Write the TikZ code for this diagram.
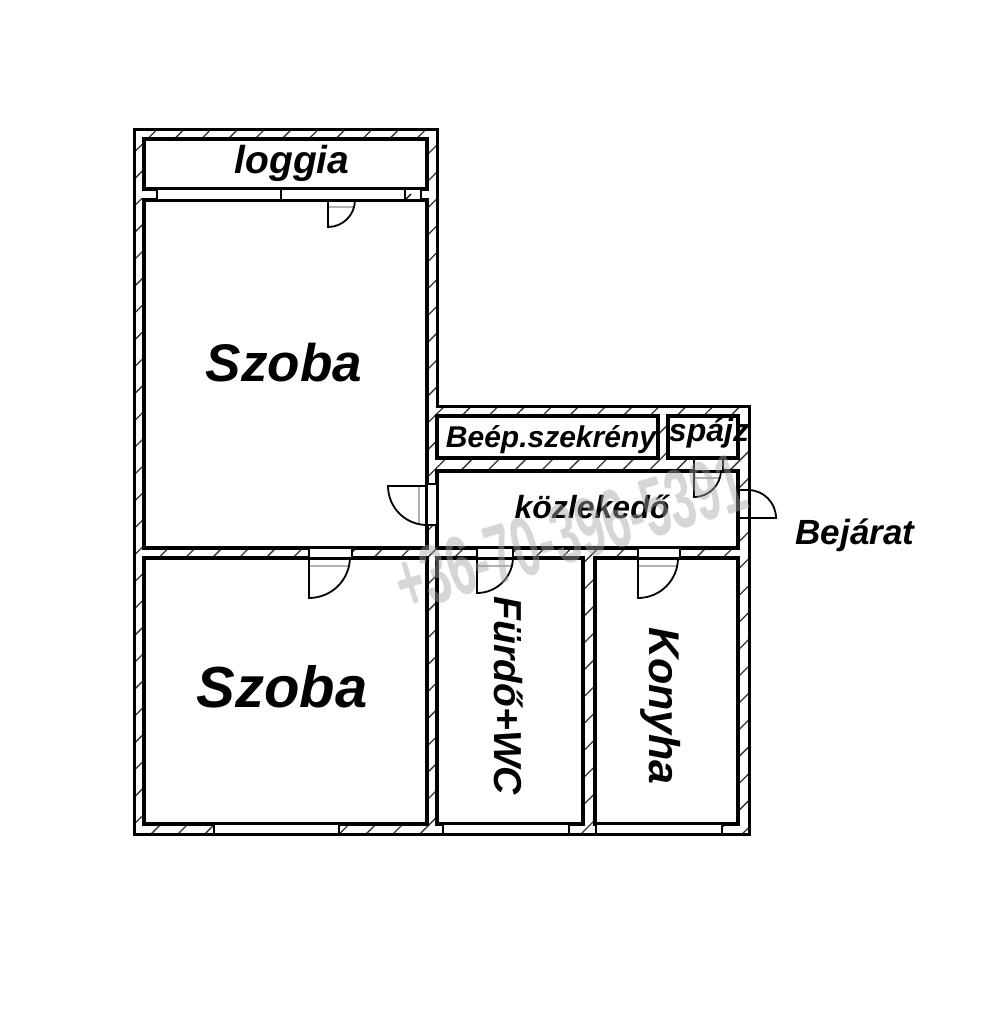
\documentclass[tikz,border=0pt]{standalone}
\usepackage{fontspec}
\setmainfont{Liberation Sans}
\usetikzlibrary{patterns.meta}

\tikzset{
    wallhatch/.style={line width=3pt, pattern={Lines[angle=45, distance=19pt, line width=1.3pt, xshift=3pt]}, pattern color=black!80},
    room/.style={draw, line width=3.2pt, fill=white, anchor=north west, inner sep=0pt, outer sep=0pt},
    opening/.style={draw, line width=1.8pt, fill=white, anchor=north west, inner sep=0pt, outer sep=0pt},
    leaf/.style={line width=1.8pt},
    leafshade/.style={line width=1.2pt, black!30},
    roomtext/.style={inner sep=0pt, font=\fontsize{#1}{#1}\selectfont\bfseries\itshape},
}

\begin{document}
\begin{tikzpicture}[x=1pt, y=-1pt]
    \useasboundingbox (0,0) rectangle (1000,1009);

    % walls
    \draw[wallhatch] (134,129) -- (437,129) -- (437,406) -- (749,406) -- (749,834) -- (134,834) -- cycle;
    \fill[white] (137,191) rectangle (157,198);

    % rooms
    \node[room, minimum width=283pt, minimum height=50pt] (loggia) at (144,139) {};
    \node[room, minimum width=283pt, minimum height=348pt] (szobaA) at (144,200) {};
    \node[room, minimum width=283pt, minimum height=266pt] (szobaB) at (144,558) {};
    \node[room, minimum width=221pt, minimum height=42pt] (szekreny) at (437,416) {};
    \node[room, minimum width=70pt, minimum height=42pt] (spajz) at (668,416) {};
    \node[room, minimum width=301pt, minimum height=77pt] (kozlekedo) at (437,471) {};
    \node[room, minimum width=146pt, minimum height=266pt] (furdo) at (437,558) {};
    \node[room, minimum width=143pt, minimum height=266pt] (konyha) at (595,558) {};

    % windows
    \node[opening, minimum width=124pt, minimum height=11pt] (winA) at (157,189) {};
    \node[opening, minimum width=124pt, minimum height=11pt] (winB) at (281,189) {};
    \node[opening, minimum width=16pt, minimum height=11pt] (winC) at (405,189) {};
    \draw[line width=1.2pt] (winC.south west) -- ++(6,-6);
    \node[opening, minimum width=125pt, minimum height=10pt] (winD) at (214,824) {};
    \node[opening, minimum width=126pt, minimum height=10pt] (winE) at (443,824) {};
    \node[opening, minimum width=126pt, minimum height=10pt] (winF) at (596,824) {};

    % door openings
    \node[opening, minimum width=10pt, minimum height=41pt] (gapB) at (427,484) {};
    \node[opening, minimum width=43pt, minimum height=10pt] (gapC) at (309,548) {};
    \node[opening, minimum width=36pt, minimum height=10pt] (gapD) at (477,548) {};
    \node[opening, minimum width=42pt, minimum height=10pt] (gapE) at (638,548) {};
    \node[opening, minimum width=29pt, minimum height=12pt] (gapF) at (694,459) {};
    \node[opening, minimum width=10pt, minimum height=28pt] (gapG) at (739,490) {};

    % doors
    \draw[leafshade] (328,207) -- (355,207);
    \draw[leaf] (328,200) -- (328,227) arc[start angle=90, end angle=0, radius=27];
    \draw[leafshade] (419,486) -- (419,524);
    \draw[leaf] (427,486) -- (388,486) arc[start angle=180, end angle=90, radius=39];
    \draw[leafshade] (309,566) -- (349,566);
    \draw[leaf] (309,558) -- (309,598) arc[start angle=90, end angle=0, radius=41];
    \draw[leafshade] (477,566) -- (513,566);
    \draw[leaf] (477,558) -- (477,593) arc[start angle=90, end angle=0, radius=36];
    \draw[leafshade] (638,566) -- (678,566);
    \draw[leaf] (638,558) -- (638,598) arc[start angle=90, end angle=0, radius=40];
    \draw[leafshade] (694,478) -- (721,478);
    \draw[leaf] (694,471) -- (694,497) arc[start angle=90, end angle=0, radius=27];
    \draw[leaf] (741,518) -- (776,518) arc[start angle=0, end angle=-90, radius=28];

    % labels
    \node[roomtext=39] (tloggia) at (292,163) {loggia};
    \node[roomtext=53] (tszobaA) at (284,363) {Szoba};
    \node[roomtext=58] (tszobaB) at (282,687) {Szoba};
    \node[roomtext=30] (tszekreny) at (551,440) {Beép.szekrény};
    \node[roomtext=32] (tspajz) at (709,433) {spájz};
    \node[roomtext=32] (tkozlekedo) at (592,507) {közlekedő};
    \node[roomtext=35] (tbejarat) at (855,535) {Bejárat};
    \node[roomtext=39, rotate=-90] (tfurdo) at (509,696) {Fürdő+WC};
    \node[roomtext=43, rotate=-90] (tkonyha) at (661,706) {Konyha};

    % phone number over the plan
    \node[inner sep=0pt, font=\fontsize{84}{84}\selectfont\bfseries, text=black!35, opacity=.45, rotate=17, xscale=.56] (phone) at (570,533) {+36-70-396-5391};
\end{tikzpicture}
\end{document}
